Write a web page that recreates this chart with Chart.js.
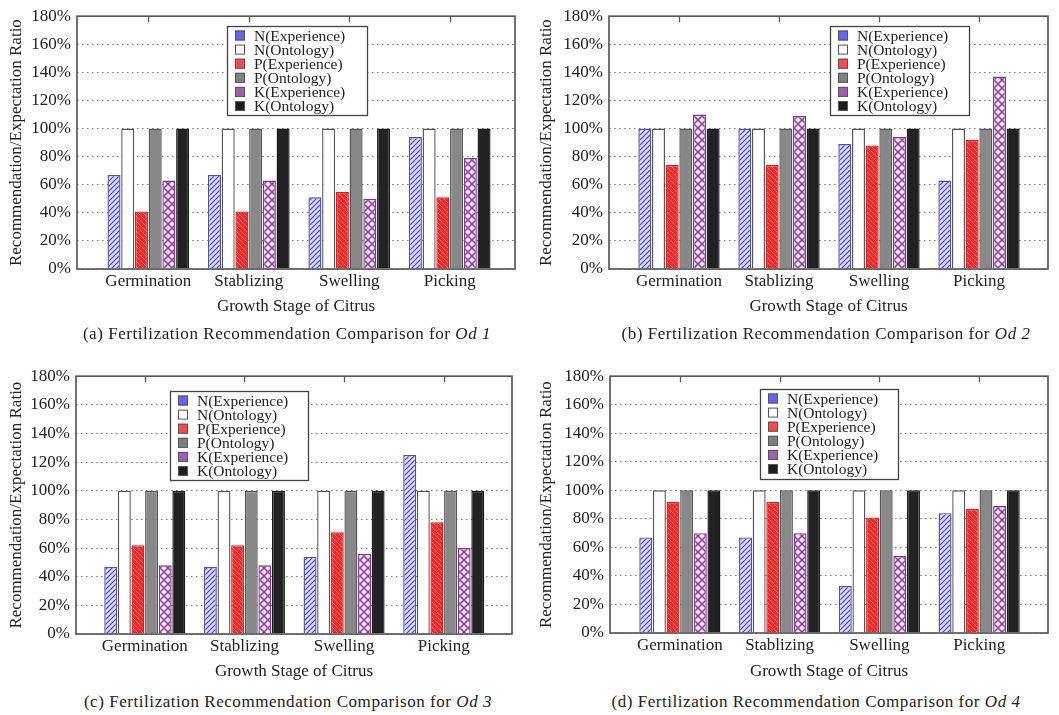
<!DOCTYPE html>
<html><head><meta charset="utf-8">
<script src="https://cdn.jsdelivr.net/npm/chart.js@4.4.0/dist/chart.umd.min.js"></script>
<style>
body{margin:0;background:#fff;width:1059px;height:715px;position:relative;overflow:hidden;font-family:"Liberation Serif",serif;}
.panel{position:absolute;}
.cap{position:absolute;width:530px;text-align:center;font-size:17px;line-height:20px;color:#222;letter-spacing:0.55px;white-space:nowrap;}
</style></head><body>
<div class="panel" style="left:0px;top:0px"><canvas id="c1" width="530" height="325"></canvas></div>
<div class="panel" style="left:530px;top:0px"><canvas id="c2" width="529" height="325"></canvas></div>
<div class="panel" style="left:0px;top:360px"><canvas id="c3" width="530" height="325"></canvas></div>
<div class="panel" style="left:530px;top:360px"><canvas id="c4" width="529" height="325"></canvas></div>
<div class="cap" style="left:22px;top:324px">(a) Fertilization Recommendation Comparison for <i>Od 1</i></div>
<div class="cap" style="left:561px;top:324px">(b) Fertilization Recommendation Comparison for <i>Od 2</i></div>
<div class="cap" style="left:23px;top:692px">(c) Fertilization Recommendation Comparison for <i>Od 3</i></div>
<div class="cap" style="left:551px;top:692px">(d) Fertilization Recommendation Comparison for <i>Od 4</i></div>
<script>
// ---- data ----
const categories = ['Germination', 'Stablizing', 'Swelling', 'Picking'];
const seriesLabels = ['N(Experience)', 'N(Ontology)', 'P(Experience)', 'P(Ontology)', 'K(Experience)', 'K(Ontology)'];
const ontology = [100, 100, 100, 100];

const nExpOd1 = [67, 67, 51, 94];
const pExpOd1 = [41, 41, 55, 51];
const kExpOd1 = [63, 63, 50, 79];

const nExpOd2 = [100, 100, 89, 63];
const pExpOd2 = [74, 74, 88, 92];
const kExpOd2 = [110, 109, 94, 137];

const nExpOd3 = [47, 47, 54, 125];
const pExpOd3 = [62, 62, 71, 78];
const kExpOd3 = [48, 48, 56, 60];

const nExpOd4 = [67, 67, 33, 84];
const pExpOd4 = [92, 92, 81, 87];
const kExpOd4 = [70, 70, 54, 89];

const yMin = 0, yMax = 180, yStep = 20;

// ---- styles ----
const FONT = '"Liberation Serif", "Times New Roman", serif';
const TXT = '#222';

function tile(w, h, draw) {
  const c = document.createElement('canvas'); c.width = w; c.height = h;
  draw(c.getContext('2d'), w, h); return c;
}
const tiles = {
  nExp: tile(5, 5, (g, w, h) => {
    g.fillStyle = '#dadaff'; g.fillRect(0, 0, w, h);
    g.strokeStyle = '#3c3ce8'; g.lineWidth = 1.1; g.beginPath();
    for (let k = -w; k <= w; k += w) { g.moveTo(k, h); g.lineTo(k + w, 0); }
    g.stroke();
  }),
  pExp: tile(5, 5, (g, w, h) => {
    g.fillStyle = '#ff2222'; g.fillRect(0, 0, w, h);
    g.strokeStyle = '#ff9a9a'; g.lineWidth = 0.9; g.beginPath();
    for (let k = -w; k <= w; k += w) { g.moveTo(k, 0); g.lineTo(k + w, h); }
    g.stroke();
  }),
  kExp: tile(8, 8, (g, w, h) => {
    g.fillStyle = '#f3e3f5'; g.fillRect(0, 0, w, h);
    g.strokeStyle = '#8a3a9c'; g.lineWidth = 1.5; g.beginPath();
    g.moveTo(0, 0); g.lineTo(8, 8); g.moveTo(8, 0); g.lineTo(0, 8);
    g.stroke();
    g.fillStyle = '#9a4aaa'; g.fillRect(3, 3, 2, 2);
  })
};
const legendSwatch = ['#6464f0', '#ffffff', '#ff4a4a', '#808080', '#a060b0', '#1e1e1e'];

const framePlugin = {
  id: 'frameAndLegend',
  afterDatasetsDraw(chart, args, opts) {
    const ctx = chart.ctx, a = chart.chartArea, xs = chart.scales.x;
    ctx.save();
    // top tick marks
    ctx.strokeStyle = '#555'; ctx.lineWidth = 1.3;
    xs.ticks.forEach(t => {
      const px = Math.round(xs.getPixelForValue(t.value)) + 0.5;
      ctx.beginPath(); ctx.moveTo(px, a.top); ctx.lineTo(px, a.top + 6); ctx.stroke();
    });
    // frame
    ctx.strokeStyle = '#5a5a5a'; ctx.lineWidth = 1.7;
    ctx.strokeRect(a.left, a.top, a.right - a.left, a.bottom - a.top);
    // legend
    const { x, y, w, h } = opts;
    ctx.fillStyle = '#fff'; ctx.fillRect(x, y, w, h);
    ctx.strokeStyle = '#444'; ctx.lineWidth = 1.3; ctx.strokeRect(x + 0.5, y + 0.5, w, h);
    ctx.font = '15.5px ' + FONT; ctx.textBaseline = 'middle'; ctx.textAlign = 'left';
    chart.data.datasets.forEach((ds, i) => {
      const cy = y + 9.5 + i * 14.1;
      ctx.fillStyle = legendSwatch[i]; ctx.fillRect(x + 8, cy - 5, 10, 10);
      ctx.strokeStyle = '#555'; ctx.lineWidth = 1; ctx.strokeRect(x + 8.5, cy - 4.5, 9, 9);
      ctx.fillStyle = TXT; ctx.fillText(ds.label, x + 27, cy + 1);
    });
    ctx.restore();
  }
};

function makeChart(id, nExp, pExp, kExp, L) {
  const canvas = document.getElementById(id);
  const ctx = canvas.getContext('2d');
  const pat = k => ctx.createPattern(tiles[k], 'repeat');
  const W = canvas.width, H = canvas.height;
  const toXY = arr => arr.map((v, i) => ({ x: i, y: v }));
  const seriesData = [nExp, ontology, pExp, ontology, kExp, ontology];
  const fills = [pat('nExp'), '#ffffff', pat('pExp'), '#888888', pat('kExp'), '#222222'];
  const borders = ['#55558a', '#555555', '#d82020', '#555555', '#7c3a8c', '#1a1a1a'];
  const datasets = seriesLabels.map((lab, i) => ({
    label: lab, data: toXY(seriesData[i]),
    backgroundColor: fills[i], borderColor: borders[i], borderWidth: 1.4,
    categoryPercentage: 0.82, barPercentage: 0.95
  }));
  return new Chart(ctx, {
    type: 'bar',
    data: { datasets },
    plugins: [framePlugin],
    options: {
      responsive: false, animation: false, events: [],
      layout: { padding: { left: 0, right: W - L.r, top: L.t, bottom: 0 } },
      plugins: {
        legend: { display: false }, tooltip: { enabled: false },
        frameAndLegend: L.legend
      },
      scales: {
        x: {
          type: 'linear', min: L.xmin, max: L.xmax, offset: false,
          afterBuildTicks: s => { s.ticks = categories.map((_, i) => ({ value: i })); },
          afterFit: s => { s.height = H - L.b; },
          grid: { display: false, drawTicks: false, offset: false }, border: { display: false },
          ticks: { callback: v => categories[v], font: { family: FONT, size: 17 }, color: TXT, padding: 2, autoSkip: false, maxRotation: 0 },
          title: { display: true, text: 'Growth Stage of Citrus', font: { family: FONT, size: 17 }, color: TXT, padding: { top: 0, bottom: H - L.titleY - 10.2 } }
        },
        y: {
          min: yMin, max: yMax,
          afterFit: s => { s.width = L.l; },
          ticks: { stepSize: yStep, callback: v => v + '%', font: { family: FONT, size: 17 }, color: TXT, padding: 6 },
          grid: { color: '#808080', lineWidth: 1, drawTicks: false },
          border: { display: false, dash: [1.6, 3.4] },
          title: { display: true, text: 'Recommendation/Expectation Ratio', font: { family: FONT, size: 17 }, color: TXT, padding: { top: 6.8, bottom: 0 } }
        }
      }
    }
  });
}

makeChart('c1', nExpOd1, pExpOd1, kExpOd1, { l: 77, r: 515, t: 12, b: 269, titleY: 307, xmin: -0.71, xmax: 3.65, legend: { x: 227, y: 26, w: 140, h: 89 } });
makeChart('c2', nExpOd2, pExpOd2, kExpOd2, { l: 79, r: 518, t: 12, b: 269, titleY: 307, xmin: -0.7, xmax: 3.69, legend: { x: 300, y: 26, w: 139, h: 89 } });
makeChart('c3', nExpOd3, pExpOd3, kExpOd3, { l: 76, r: 512, t: 15, b: 274, titleY: 312, xmin: -0.69, xmax: 3.685, legend: { x: 170, y: 31, w: 138, h: 89 } });
makeChart('c4', nExpOd4, pExpOd4, kExpOd4, { l: 80, r: 518, t: 15, b: 273, titleY: 312, xmin: -0.7, xmax: 3.69, legend: { x: 230, y: 29, w: 138, h: 90 } });
</script>
</body></html>
